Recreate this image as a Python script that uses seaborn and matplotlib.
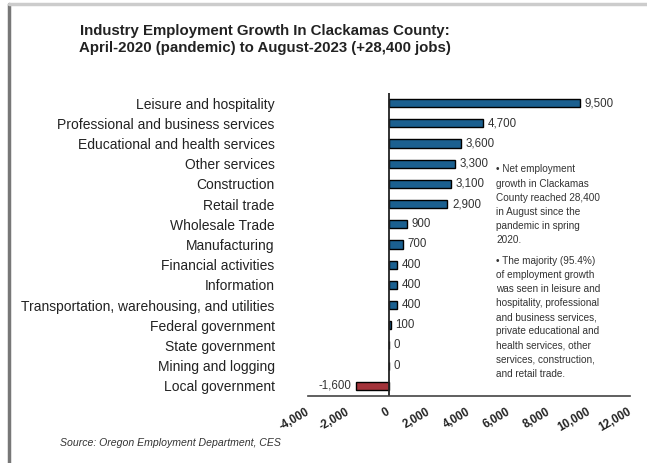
import pandas as pd
import matplotlib
matplotlib.use("Agg")
import matplotlib.pyplot as plt
import seaborn as sns

# Data
industries = [
    "Leisure and hospitality",
    "Professional and business services",
    "Educational and health services",
    "Other services",
    "Construction",
    "Retail trade",
    "Wholesale Trade",
    "Manufacturing",
    "Financial activities",
    "Information",
    "Transportation, warehousing, and utilities",
    "Federal government",
    "State government",
    "Mining and logging",
    "Local government",
]
jobs_change = [9500, 4700, 3600, 3300, 3100, 2900, 900, 700, 400, 400, 400, 100, 0, 0, -1600]
x_ticks = [-4000, -2000, 0, 2000, 4000, 6000, 8000, 10000, 12000]

note_1 = ("\u2022 Net employment\ngrowth in Clackamas\nCounty reached 28,400\n"
          "in August since the\npandemic in spring\n2020.")
note_2 = ("\u2022 The majority (95.4%)\nof employment growth\nwas seen in leisure and\n"
          "hospitality, professional\nand business services,\nprivate educational and\n"
          "health services, other\nservices, construction,\nand retail trade.")

df = pd.DataFrame({"industry": industries, "change": jobs_change})
bar_colors = ["#a3333a" if v < 0 else "#1b6090" for v in jobs_change]

sns.set_style("white")
plt.rcParams["font.family"] = ["Liberation Sans", "DejaVu Sans"]

fig = plt.figure(figsize=(6.47, 4.63), dpi=100)
ax = fig.add_axes([0.476, 0.145, 0.498, 0.654])

sns.barplot(data=df, y="industry", x="change", hue="industry", palette=bar_colors,
            saturation=1, legend=False, width=0.4, edgecolor="black", linewidth=1,
            ax=ax, orient="h")

ax.set_xlim(-4000, 12000)
ax.set_ylim(len(industries) - 0.5, -0.5)
ax.axvline(0, color="#222222", lw=1.3)

for i, v in enumerate(jobs_change):
    if v < 0:
        ax.text(v - 250, i, f"{v:,}", ha="right", va="center", fontsize=8.3, color="#333333")
    else:
        ax.text(v + 250, i, f"{v:,}", ha="left", va="center", fontsize=8.3, color="#333333")

ax.set_xticks(x_ticks)
ax.set_xticklabels([f"{t:,}" for t in x_ticks], rotation=30, fontsize=8.3,
                   fontweight="bold", color="#222222", ha="right", va="center",
                   rotation_mode="anchor")
ax.tick_params(axis="x", length=0, pad=11)
ax.tick_params(axis="y", length=0, pad=24, labelsize=10, labelcolor="#222222")
ax.set_xlabel("")
ax.set_ylabel("")
for s in ["left", "right", "top"]:
    ax.spines[s].set_visible(False)
ax.spines["bottom"].set_color("#444444")
ax.spines["bottom"].set_linewidth(1.2)

fig.text(0.41, 0.915, "Industry Employment Growth In Clackamas County:\n"
         "April-2020 (pandemic) to August-2023 (+28,400 jobs)",
         ha="center", va="center", fontsize=10.8, fontweight="bold", color="#222222",
         linespacing=1.25)

fig.text(0.767, 0.645, note_1, ha="left", va="top", fontsize=7.2, color="#333333",
         linespacing=1.52, bbox=dict(facecolor="white", edgecolor="none", pad=1))
fig.text(0.767, 0.448, note_2, ha="left", va="top", fontsize=7.2, color="#333333",
         linespacing=1.52, bbox=dict(facecolor="white", edgecolor="none", pad=1))

fig.text(0.092, 0.043, "Source: Oregon Employment Department, CES", ha="left", va="center",
         fontsize=7.6, style="italic", color="#333333")

# frame around the picture
fig.add_artist(plt.Line2D([0.014, 0.014], [0, 0.992], color="#777777", lw=2.5,
                          transform=fig.transFigure))
fig.add_artist(plt.Line2D([0.014, 1], [0.992, 0.992], color="#cccccc", lw=2.5,
                          transform=fig.transFigure))

fig.savefig("out.png", dpi=100)
